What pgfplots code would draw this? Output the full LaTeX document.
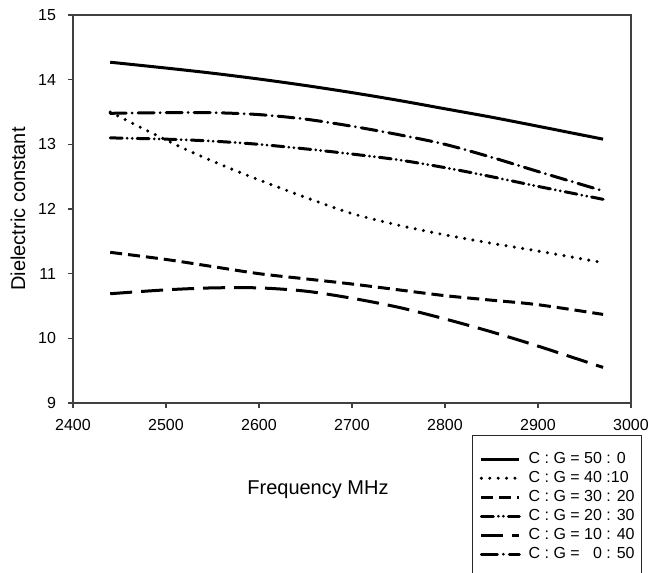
\documentclass[border=0pt]{standalone}
\usepackage{fontspec}
\setmainfont{Liberation Sans}
\usepackage{pgfplots}
\pgfplotsset{compat=1.18}

\begin{document}
\begin{tikzpicture}
\begin{axis}[
  width=279pt, height=194pt, scale only axis,
  xmin=2400, xmax=3000, ymin=9, ymax=15,
  xtick={2400,2500,...,3000}, ytick={9,10,...,15},
  tick align=outside, tick pos=left, major tick length=2.5pt,
  axis line style={black!75, line width=0.6pt},
  tick style={black!75, line width=0.6pt},
  /pgf/number format/assume math mode=true,
  /pgf/number format/1000 sep={},
  ticklabel style={font=\fontsize{8}{9.5}\selectfont},
  xticklabel style={yshift=-2pt},
  yticklabel style={xshift=-2.5pt},
  xlabel={Frequency MHz},
  ylabel={Dielectric constant},
  label style={font=\fontsize{10}{12}\selectfont},
  xlabel style={at={(axis description cs:0.439,-0.224)}, anchor=center},
  ylabel style={at={(axis description cs:-0.0986,0.5)}, anchor=center},
  every axis plot/.append style={black, line width=1.5pt, smooth},
  legend image code/.code={\draw[#1] (0pt,0pt) -- (19pt,0pt);},
  legend style={at={(axis description cs:0.715,-0.0825)}, anchor=north west,
    draw=black!85, line width=0.7pt, font=\fontsize{8}{9.5}\selectfont,
    inner xsep=3.5pt, inner ysep=8pt, row sep=2pt,
    nodes={inner sep=0pt, text height=6pt, text depth=1.5pt},
    /tikz/every odd column/.append style={column sep=3.8pt}},
  legend cell align=left,
]
% C:G = 50:0
\addplot[solid] coordinates {(2440,14.27) (2500,14.18) (2550,14.10) (2600,14.01) (2650,13.91) (2700,13.80) (2750,13.68) (2800,13.55) (2850,13.42) (2900,13.28) (2970,13.08)};
\addlegendentry{\makebox[42.2pt][l]{C : G = 50 : 0}}
% C:G = 40:10
\addplot[line width=1.7pt, line cap=round, dash pattern=on 0pt off 4.2pt] coordinates {(2440,13.50) (2480,13.21) (2520,12.93) (2560,12.68) (2600,12.45) (2650,12.18) (2700,11.93) (2750,11.75) (2800,11.60) (2850,11.47) (2900,11.35) (2970,11.17)};
\addlegendentry{C : G = 40 :10}
% C:G = 30:20
\addplot[dash pattern=on 6pt off 3pt] coordinates {(2440,11.33) (2500,11.22) (2550,11.11) (2600,11.00) (2650,10.92) (2700,10.84) (2750,10.75) (2800,10.66) (2850,10.59) (2900,10.52) (2970,10.37)};
\addlegendentry{C : G = 30 : 20}
% C:G = 20:30
\addplot[line cap=round, dash pattern=on 6pt off 2.5pt on 0pt off 2.5pt on 0pt off 2.5pt] coordinates {(2440,13.10) (2500,13.08) (2550,13.05) (2600,13.00) (2650,12.93) (2700,12.85) (2750,12.76) (2800,12.64) (2850,12.50) (2900,12.35) (2970,12.15)};
\addlegendentry{C : G = 20 : 30}
% C:G = 10:40
\addplot[dash pattern=on 11pt off 4.5pt] coordinates {(2440,10.69) (2500,10.75) (2550,10.78) (2600,10.78) (2650,10.73) (2700,10.62) (2750,10.48) (2800,10.30) (2850,10.10) (2900,9.88) (2970,9.55)};
\addlegendentry{C : G = 10 : 40}
% C:G = 0:50
\addplot[line cap=round, dash pattern=on 8pt off 3pt on 0pt off 3pt] coordinates {(2440,13.48) (2500,13.49) (2550,13.49) (2600,13.46) (2650,13.39) (2700,13.28) (2750,13.15) (2800,13.00) (2850,12.80) (2900,12.58) (2970,12.28)};
\addlegendentry{C : G = \phantom{1}0 : 50}
\end{axis}
\pgfresetboundingbox
\useasboundingbox (-36.5pt,-85pt) rectangle (287.5pt,201.5pt);
\end{tikzpicture}
\end{document}
